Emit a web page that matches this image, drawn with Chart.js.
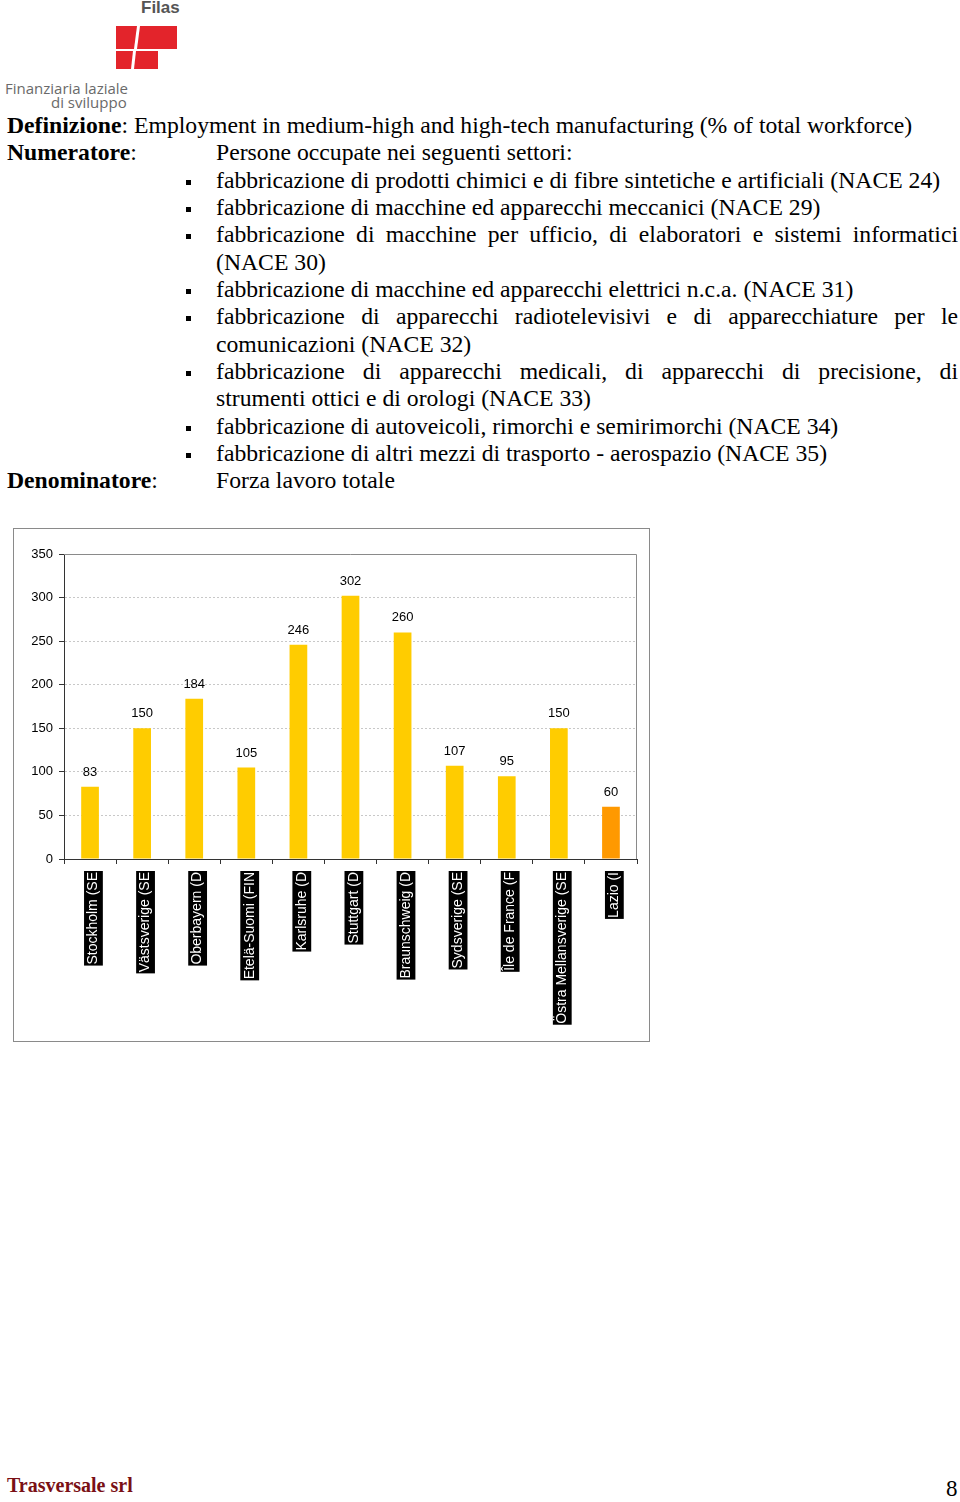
<!DOCTYPE html>
<html>
<head>
<meta charset="utf-8">
<script src="https://cdn.jsdelivr.net/npm/chart.js@4.4.0/dist/chart.umd.min.js"></script>
<style>
  html, body { margin: 0; padding: 0; background: #fff; }
  body { width: 960px; height: 1502px; position: relative; overflow: hidden;
         font-family: "Liberation Serif", "Times New Roman", serif; color: #000; }
  #logo { position: absolute; left: 0; top: 0; width: 200px; height: 112px; }
  #logo .filas { position: absolute; left: 141px; top: -2px; font: bold 17px "Liberation Sans", Arial, sans-serif; color: #555; }
  #logo .fin { position: absolute; font: 15px "Open Sans", "Liberation Sans", sans-serif; color: #6a6a6a; white-space: nowrap; }
  #text { position: absolute; left: 7px; top: 112px; width: 951px; font-size: 23.7px; }
  .ln { height: 27.35px; line-height: 27.35px; white-space: nowrap; position: relative; }
  .ln .c2 { position: absolute; left: 209px; }
  .it { padding-left: 209px; }
  .it.j { white-space: normal; text-align: justify; text-align-last: justify; width: 742px; }
  .bl { position: absolute; left: 179px; top: 13px; width: 5px; height: 5px; background: #000; }
  #chartBox { position: absolute; left: 13px; top: 528px; width: 635px; height: 512px; border: 1px solid #8a8a8a; }
  #foot1 { position: absolute; left: 7px; top: 1474px; font: bold 20px "Liberation Serif", serif; color: #7a1015; }
  #foot2 { position: absolute; left: 946px; top: 1476px; font: 23px "Liberation Serif", serif; }
</style>
</head>
<body>
<div id="logo">
  <div class="filas">Filas</div>
  <svg width="200" height="80" style="position:absolute;left:0;top:0">
    <polygon points="116,26 137,26 134,49 116,49" fill="#e3242b"/>
    <polygon points="140,26 177,26 177,49 137,49" fill="#e3242b"/>
    <polygon points="116,51 133,51 131,69 116,69" fill="#e3242b"/>
    <polygon points="136,51 158,51 158,69 134,69" fill="#e3242b"/>
  </svg>
  <div class="fin" style="left:5px;top:78px;">Finanziaria laziale</div>
  <div class="fin" style="left:51px;top:92px;">di sviluppo</div>
</div>

<div id="text">
  <div class="ln"><b>Definizione</b>: Employment in medium-high and high-tech manufacturing (% of total workforce)</div>
  <div class="ln"><b>Numeratore</b>:<span class="c2">Persone occupate nei seguenti settori:</span></div>
  <div class="ln it"><i class="bl"></i>fabbricazione di prodotti chimici e di fibre sintetiche e artificiali (NACE 24)</div>
  <div class="ln it"><i class="bl"></i>fabbricazione di macchine ed apparecchi meccanici (NACE 29)</div>
  <div class="ln it j"><i class="bl"></i>fabbricazione di macchine per ufficio, di elaboratori e sistemi informatici</div>
  <div class="ln it">(NACE 30)</div>
  <div class="ln it"><i class="bl"></i>fabbricazione di macchine ed apparecchi elettrici n.c.a. (NACE 31)</div>
  <div class="ln it j"><i class="bl"></i>fabbricazione di apparecchi radiotelevisivi e di apparecchiature per le</div>
  <div class="ln it">comunicazioni (NACE 32)</div>
  <div class="ln it j"><i class="bl"></i>fabbricazione di apparecchi medicali, di apparecchi di precisione, di</div>
  <div class="ln it">strumenti ottici e di orologi (NACE 33)</div>
  <div class="ln it"><i class="bl"></i>fabbricazione di autoveicoli, rimorchi e semirimorchi (NACE 34)</div>
  <div class="ln it"><i class="bl"></i>fabbricazione di altri mezzi di trasporto - aerospazio (NACE 35)</div>
  <div class="ln"><b>Denominatore</b>:<span class="c2">Forza lavoro totale</span></div>
</div>

<div id="chartBox"><canvas id="chart" width="635" height="512"></canvas></div>

<div id="foot1">Trasversale srl</div>
<div id="foot2">8</div>

<script>
  var regions = ["Stockholm (SE", "Västsverige (SE", "Oberbayern (D", "Etelä-Suomi (FIN",
    "Karlsruhe (D", "Stuttgart (D", "Braunschweig (D", "Sydsverige (SE",
    "Île de France (F", "Östra Mellansverige (SE", "Lazio (I"];
  var values = [83, 150, 184, 105, 246, 302, 260, 107, 95, 150, 60];
  var barColors = ["#ffcc00", "#ffcc00", "#ffcc00", "#ffcc00", "#ffcc00", "#ffcc00",
    "#ffcc00", "#ffcc00", "#ffcc00", "#ffcc00", "#ff9900"];
  var yMin = 0, yMax = 350, yStep = 50;

  var SANS = "'Liberation Sans', Arial, sans-serif";

  // plot frame: top and right edges in grey
  var frame = {
    id: "frame",
    beforeDatasetsDraw: function (chart) {
      var a = chart.chartArea, ctx = chart.ctx;
      ctx.save();
      ctx.strokeStyle = "#8a8a8a";
      ctx.lineWidth = 1;
      ctx.beginPath();
      ctx.moveTo(a.left, a.top + 0.5);
      ctx.lineTo(a.right - 0.5, a.top + 0.5);
      ctx.lineTo(a.right - 0.5, a.bottom);
      ctx.stroke();
      ctx.restore();
    }
  };

  // value labels above bars
  var valueLabels = {
    id: "valueLabels",
    afterDatasetsDraw: function (chart) {
      var ctx = chart.ctx;
      var meta = chart.getDatasetMeta(0);
      ctx.save();
      ctx.font = "13px " + SANS;
      ctx.fillStyle = "#000";
      ctx.textAlign = "center";
      ctx.textBaseline = "alphabetic";
      meta.data.forEach(function (bar, i) {
        ctx.fillText(String(values[i]), bar.x, bar.y - 11);
      });
      ctx.restore();
    }
  };

  new Chart(document.getElementById("chart"), {
    type: "bar",
    data: {
      labels: regions,
      datasets: [{
        data: values,
        backgroundColor: barColors,
        borderWidth: 0,
        categoryPercentage: 1,
        barPercentage: 0.34
      }]
    },
    options: {
      responsive: false,
      animation: false,
      layout: { padding: { top: 25, right: 12, left: 0, bottom: 0 } },
      plugins: { legend: { display: false }, tooltip: { enabled: false } },
      scales: {
        x: {
          grid: { drawOnChartArea: false, drawTicks: true, tickLength: 5, tickColor: "#333", offset: true },
          border: { color: "#333", width: 1 },
          ticks: {
            autoSkip: false, maxRotation: 90, minRotation: 90,
            color: "#fff", font: { family: SANS, size: 14 }, padding: 8, labelOffset: -5,
            showLabelBackdrop: true, backdropColor: "#000",
            backdropPadding: { top: 1, bottom: 1, left: 1, right: 1 }
          },
          afterFit: function (s) { s.height = 182; }
        },
        y: {
          min: yMin, max: yMax,
          ticks: { stepSize: yStep, color: "#000", font: { family: SANS, size: 13 }, padding: 6 },
          grid: {
            color: function (c) { return (c.tick && (c.tick.value === yMin || c.tick.value === yMax)) ? "rgba(0,0,0,0)" : "#c8c8c8"; },
            tickLength: 5, tickColor: "#333", drawTicks: true
          },
          border: { color: "#333", width: 1, dash: [2, 2] },
          afterFit: function (s) { s.width = 50; }
        }
      }
    },
    plugins: [frame, valueLabels]
  });
</script>
</body>
</html>
